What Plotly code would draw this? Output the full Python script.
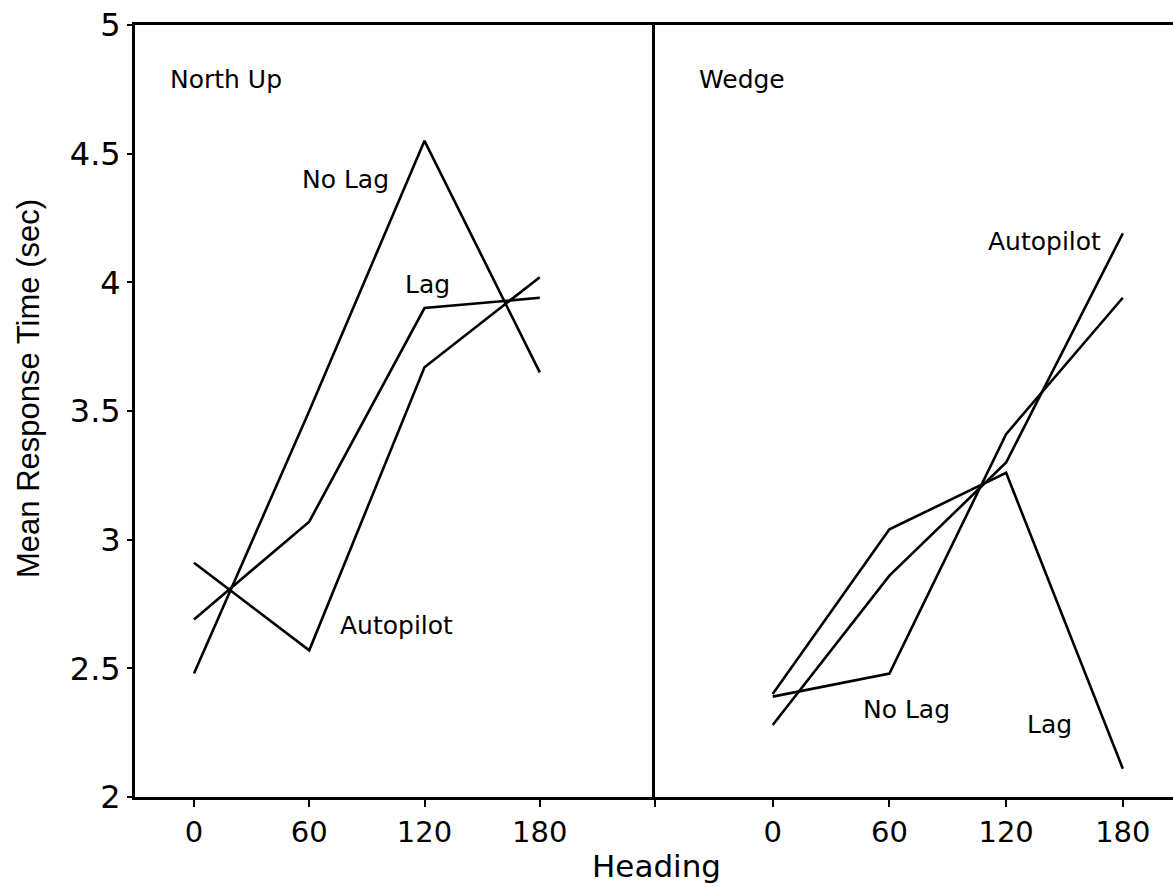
import plotly.graph_objects as go

# Data
heading = [0, 60, 120, 180]

# North Up panel
nu_no_lag = [2.48, 3.50, 4.55, 3.65]
nu_lag = [2.69, 3.07, 3.90, 3.94]
nu_autopilot = [2.91, 2.57, 3.67, 4.02]

# Wedge panel
w_no_lag = [2.39, 2.48, 3.41, 3.94]
w_lag = [2.40, 3.04, 3.26, 2.11]
w_autopilot = [2.28, 2.86, 3.30, 4.19]

y_ticks = [2, 2.5, 3, 3.5, 4, 4.5, 5]
y_tick_text = ["2", "2.5", "3", "3.5", "4", "4.5", "5"]
x_ticks = [0, 60, 120, 180]

FONT = "DejaVu Sans"
LINE = dict(color="black", width=2.6)

fig = go.Figure()
for ys in (nu_no_lag, nu_lag, nu_autopilot):
    fig.add_trace(go.Scatter(x=heading, y=ys, mode="lines", line=LINE,
                             xaxis="x", yaxis="y", hoverinfo="skip"))
for ys in (w_no_lag, w_lag, w_autopilot):
    fig.add_trace(go.Scatter(x=heading, y=ys, mode="lines", line=LINE,
                             xaxis="x2", yaxis="y2", hoverinfo="skip"))

# Panel titles and series labels
labels = [
    ("North Up", "x", "y", -13.6, 4.79),
    ("No Lag", "x", "y", 55.1, 4.40),
    ("Lag", "x", "y", 108.9, 3.99),
    ("Autopilot", "x", "y", 75.0, 2.665),
    ("Wedge", "x2", "y2", -39.0, 4.79),
    ("Autopilot", "x2", "y2", 109.7, 4.16),
    ("No Lag", "x2", "y2", 45.3, 2.34),
    ("Lag", "x2", "y2", 129.8, 2.28),
]
for text, xr, yr, xv, yv in labels:
    fig.add_annotation(text=text, xref=xr, yref=yr, x=xv, y=yv,
                       xanchor="left", yanchor="middle", showarrow=False,
                       font=dict(family=FONT, size=25, color="black"))

# Axis titles
fig.add_annotation(text="Heading", xref="paper", yref="paper",
                   x=(656 - 135) / 1038, y=(797 - 866) / 772,
                   xanchor="center", yanchor="middle", showarrow=False,
                   font=dict(family=FONT, size=31, color="black"))
fig.add_annotation(text="Mean Response Time (sec)", xref="paper", yref="paper",
                   x=(28.5 - 135) / 1038, y=(797 - 388.5) / 772,
                   xanchor="center", yanchor="middle", showarrow=False,
                   textangle=-90,
                   font=dict(family="Liberation Sans", size=31, color="black"))

axis_common = dict(showgrid=False, zeroline=False, showline=True,
                   linecolor="black", linewidth=2.8, ticks="outside",
                   tickcolor="black", tickwidth=2)

fig.update_layout(
    width=1173, height=890,
    margin=dict(l=135, r=0, t=25, b=93),
    paper_bgcolor="white", plot_bgcolor="white",
    showlegend=False,
    xaxis=dict(domain=[0, 0.501], range=[-30.7, 240],
               tickvals=x_ticks + [240], ticktext=[str(v) for v in x_ticks] + [""],
               ticklen=7, mirror=True,
               tickfont=dict(family=FONT, size=29, color="black"),
               anchor="y", **axis_common),
    xaxis2=dict(domain=[0.501, 1], range=[-60.5, 205.8],
                tickvals=x_ticks, ticktext=[str(v) for v in x_ticks],
                ticklen=7, mirror=True,
                tickfont=dict(family=FONT, size=29, color="black"),
                anchor="y2", **axis_common),
    yaxis=dict(range=[2, 5], tickvals=y_ticks, ticktext=y_tick_text,
               ticklen=5, mirror=False, anchor="x",
               tickfont=dict(family=FONT, size=32, color="black"),
               **axis_common),
    yaxis2=dict(range=[2, 5], matches="y", anchor="x2",
                showticklabels=False, showgrid=False, zeroline=False,
                showline=True, linecolor="black", linewidth=2.8, ticks=""),
)

fig.write_html("out.html")
